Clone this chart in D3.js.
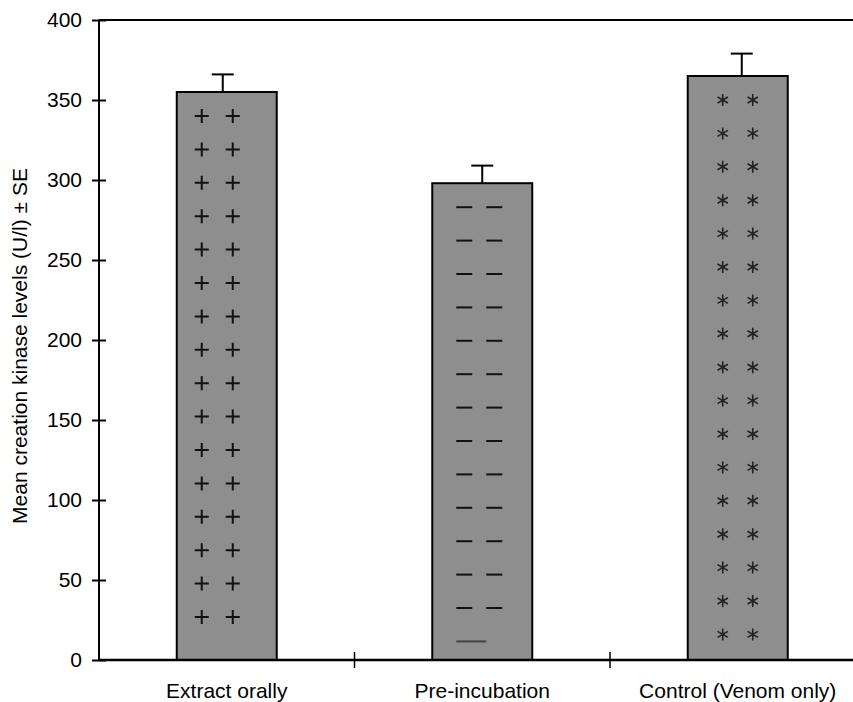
<!DOCTYPE html>
<html><head><meta charset="utf-8">
<script src="https://cdn.jsdelivr.net/npm/d3@7"></script>
<style>body{margin:0;background:#fff}svg{display:block}text{font-family:"Liberation Sans",Arial,sans-serif}</style>
</head><body><svg id="c" width="853" height="702"></svg>
<script>
const categories = ["Extract orally", "Pre-incubation", "Control (Venom only)"];
const means = [355, 298, 365];
const errors = [11, 11, 14];
const markers = ["plus", "dash", "star"];
const yTicks = [0, 50, 100, 150, 200, 250, 300, 350, 400];

const svg = d3.select("#c");
const x = d3.scaleBand().domain(categories).range([99, 865.5]).paddingInner(0).paddingOuter(0);
const y = d3.scaleLinear().domain([0, 400]).range([660, 20]);
const barW = 100;
const colOffsets = [[-25, 6], [-18, 12], [-15, 15]];
const FONT = '"Liberation Sans",Arial,sans-serif';

// top frame
svg.append("line").attr("x1", 99).attr("x2", 853).attr("y1", y(400)).attr("y2", y(400))
  .attr("stroke", "#000").attr("stroke-width", 2);

// bars
const g = svg.append("g");
categories.forEach((c, i) => {
  const cx = x(c) + x.bandwidth() / 2;
  const left = cx - barW / 2;
  g.append("rect").attr("x", left).attr("y", y(means[i])).attr("width", barW)
    .attr("height", y(0) - y(means[i])).attr("fill", "#8e8e8e").attr("stroke", "#000").attr("stroke-width", 2);
  // error bar
  const ex = cx - 4 + i * 4;
  g.append("line").attr("x1", ex).attr("x2", ex).attr("y1", y(means[i])).attr("y2", y(means[i] + errors[i]))
    .attr("stroke", "#000").attr("stroke-width", 2);
  g.append("line").attr("x1", ex - 11).attr("x2", ex + 11).attr("y1", y(means[i] + errors[i])).attr("y2", y(means[i] + errors[i]))
    .attr("stroke", "#000").attr("stroke-width", 2);
  // pattern markers
  const top = y(means[i]);
  const rows = [];
  for (let yy = top + 24; yy < y(0) - 14; yy += 33.4) rows.push(yy);
  rows.forEach((ry, k) => {
    const last = k === rows.length - 1;
    if (markers[i] === "dash" && last) {
      g.append("line").attr("x1", cx - 26).attr("x2", cx + 4).attr("y1", ry).attr("y2", ry)
        .attr("stroke", "#444").attr("stroke-width", 2);
      return;
    }
    colOffsets[i].forEach(off => {
      const px = cx + off;
      let d;
      if (markers[i] === "plus") {
        d = `M${px-7},${ry}H${px+7}M${px},${ry-7}V${ry+7}`;
      } else if (markers[i] === "dash") {
        d = `M${px-8},${ry}H${px+8}`;
      } else {
        const r = 6;
        d = "";
        [90, 30, 150].forEach(a => {
          const dx = r * Math.cos(a * Math.PI / 180), dy = r * Math.sin(a * Math.PI / 180);
          d += `M${px-dx},${ry-dy}L${px+dx},${ry+dy}`;
        });
      }
      g.append("path").attr("d", d).attr("stroke", markers[i] === "star" ? "#222" : "#111")
        .attr("stroke-width", markers[i] === "star" ? 1.6 : 2).attr("fill", "none");
    });
  });
});

// y axis
const yAxis = svg.append("g").attr("transform", `translate(99,0)`)
  .call(d3.axisLeft(y).tickValues(yTicks).tickSize(7).tickPadding(10));
yAxis.selectAll(".tick line").attr("x2", 7).attr("x1", -7).attr("stroke-width", 2);
yAxis.select(".domain").attr("stroke-width", 2).attr("d", "M0,20V660");
yAxis.selectAll("text").attr("font-size", 21).attr("fill", "#000").style("font-family", FONT);

// x axis
svg.append("line").attr("x1", 99).attr("x2", 853).attr("y1", 660).attr("y2", 660)
  .attr("stroke", "#000").attr("stroke-width", 2.5);
categories.slice(1).forEach(c => {
  svg.append("line").attr("x1", x(c)).attr("x2", x(c)).attr("y1", 652).attr("y2", 668)
    .attr("stroke", "#000").attr("stroke-width", 1.5);
});
categories.forEach(c => {
  svg.append("text").attr("x", x(c) + x.bandwidth() / 2).attr("y", 698).attr("text-anchor", "middle")
    .attr("font-size", 21).attr("fill", "#000").style("font-family", FONT).text(c);
});

// y label
svg.append("text").attr("transform", "translate(27,346) rotate(-90)").attr("text-anchor", "middle")
  .attr("font-size", 21).attr("fill", "#000").style("font-family", FONT)
  .text("Mean creation kinase levels (U/l) ± SE");
</script></body></html>
